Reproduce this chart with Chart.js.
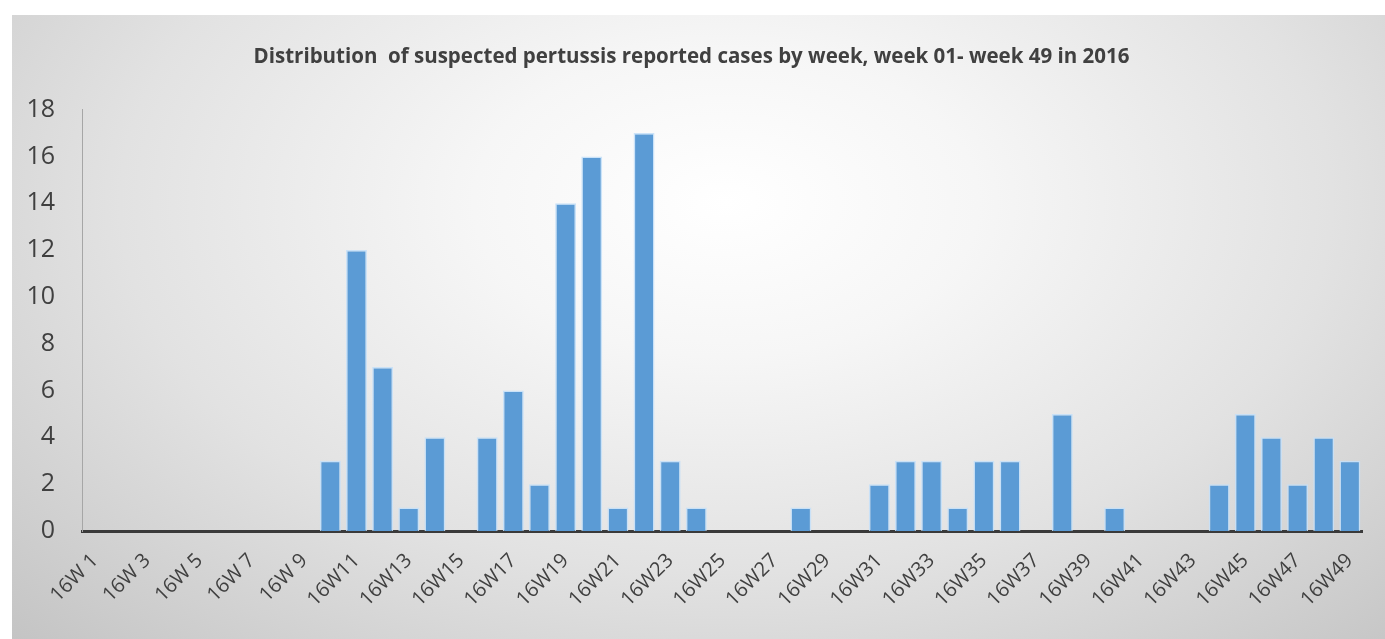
<!DOCTYPE html>
<html>
<head>
<meta charset="utf-8">
<script src="https://cdn.jsdelivr.net/npm/chart.js@4"></script>
<style>
  html, body { margin: 0; padding: 0; background: #fff; }
  #panel {
    position: absolute; left: 12px; top: 15px; width: 1373px; height: 624px;
    background: radial-gradient(ellipse at 52% 30%, #ffffff 0%, #f6f6f6 25%, #e2e2e2 60%, #c4c4c4 100%);
  }
</style>
</head>
<body>
<div id="panel"><canvas id="c" width="1373" height="624"></canvas></div>
<script>
const WEEKS = [
  "16W 1","16W 2","16W 3","16W 4","16W 5","16W 6","16W 7","16W 8","16W 9","16W10",
  "16W11","16W12","16W13","16W14","16W15","16W16","16W17","16W18","16W19","16W20",
  "16W21","16W22","16W23","16W24","16W25","16W26","16W27","16W28","16W29","16W30",
  "16W31","16W32","16W33","16W34","16W35","16W36","16W37","16W38","16W39","16W40",
  "16W41","16W42","16W43","16W44","16W45","16W46","16W47","16W48","16W49"
];
const CASES = [
  0,0,0,0,0,0,0,0,0,3,
  12,7,1,4,0,4,6,2,14,16,
  1,17,3,1,0,0,0,1,0,0,
  2,3,3,1,3,3,0,5,0,1,
  0,0,0,2,5,4,2,4,3
];
const Y_MAX = 18;
const Y_STEP = 2;
const TITLE = "Distribution  of suspected pertussis reported cases by week, week 01- week 49 in 2016";

const TEXT = "#404040";

new Chart(document.getElementById("c"), {
  type: "bar",
  data: {
    labels: WEEKS,
    datasets: [{
      data: CASES,
      backgroundColor: "#5b9bd5",
      borderColor: "rgba(197,224,248,0.9)",
      borderWidth: 1.5,
      barPercentage: 0.8,
      categoryPercentage: 1,
    }],
  },
  options: {
    responsive: false,
    animation: false,
    layout: { padding: { left: 0, right: 14, top: 0, bottom: 0 } },
    plugins: {
      legend: { display: false },
      tooltip: { enabled: false },
      title: {
        display: true,
        text: TITLE,
        color: TEXT,
        font: { family: "'Open Sans'", size: 20.5, weight: "bold" },
        padding: { top: 30, bottom: 40 },
      },
    },
    scales: {
      x: {
        grid: { display: false, drawTicks: false },
        border: { display: true, color: "#3a3a3a", width: 3 },
        ticks: {
          autoSkip: false,
          minRotation: 45,
          maxRotation: 45,
          padding: 18,
          color: TEXT,
          font: { family: "'Open Sans'", size: 20 },
          callback: (v, i) => (i % 2 === 0 ? WEEKS[i] : ""),
        },
        afterFit: (s) => { s.height = 108; },
      },
      y: {
        min: 0,
        max: Y_MAX,
        grid: { display: false, drawTicks: false },
        border: { display: true, color: "#a6a6a6", width: 1 },
        ticks: {
          stepSize: Y_STEP,
          padding: 27,
          color: TEXT,
          font: { family: "'Open Sans'", size: 25 },
        },
        afterFit: (s) => { s.width = 70; },
      },
    },
  },
});
</script>
</body>
</html>
